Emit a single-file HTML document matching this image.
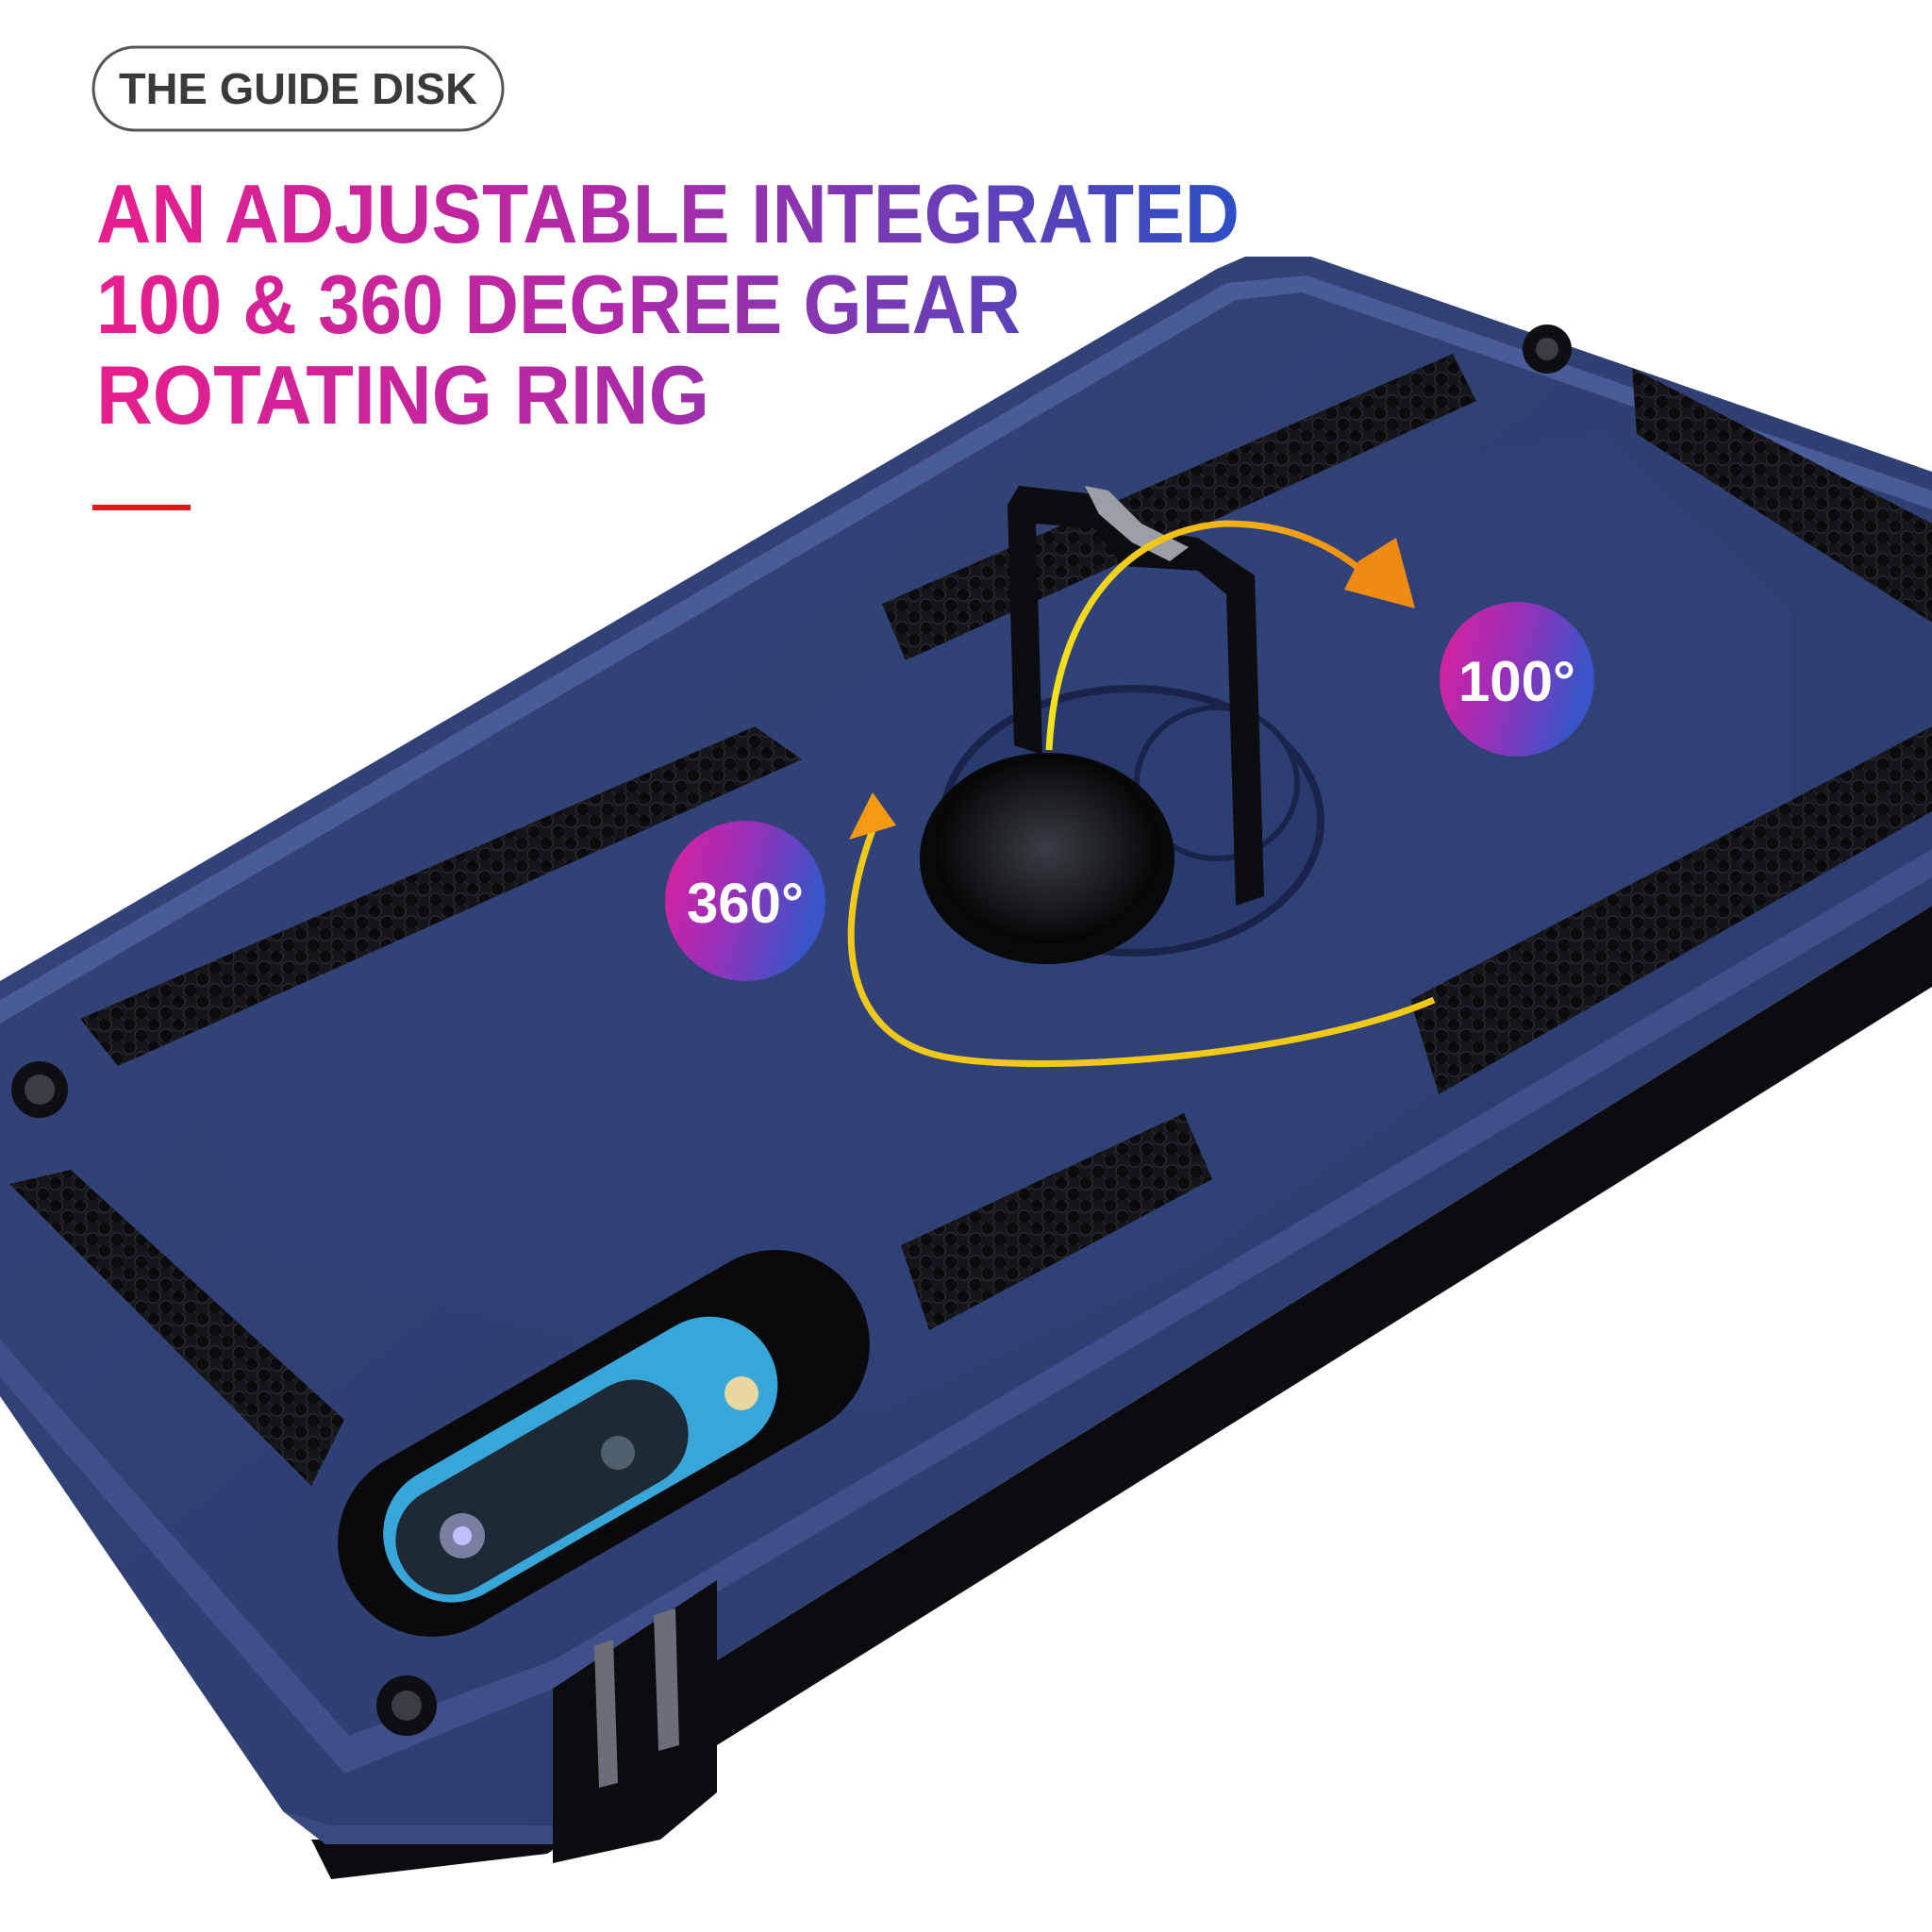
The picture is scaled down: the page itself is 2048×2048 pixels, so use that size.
<!DOCTYPE html>
<html><head><meta charset="utf-8"><style>
html,body{margin:0;padding:0;background:#fff;width:2048px;height:2048px;overflow:hidden}
svg{display:block}
</style></head><body>
<svg width="2048" height="2048" viewBox="0 0 2048 2048" xmlns="http://www.w3.org/2000/svg">
<defs>
<linearGradient id="tg" x1="100" y1="0" x2="1320" y2="0" gradientUnits="userSpaceOnUse">
<stop offset="0" stop-color="#e81e8c"/><stop offset="0.45" stop-color="#b02aa8"/><stop offset="1" stop-color="#2b50c4"/></linearGradient>
<linearGradient id="cg" x1="0" y1="0" x2="1" y2="0.3">
<stop offset="0" stop-color="#e0209a"/><stop offset="0.5" stop-color="#9a2fb8"/><stop offset="1" stop-color="#3a55c8"/></linearGradient>
<linearGradient id="case" x1="0" y1="0" x2="1" y2="1">
<stop offset="0" stop-color="#34457a"/><stop offset="1" stop-color="#2c3b6c"/></linearGradient>
<linearGradient id="arc" x1="0" y1="0" x2="1" y2="0">
<stop offset="0" stop-color="#f2e21a"/><stop offset="1" stop-color="#f28a10"/></linearGradient>
<radialGradient id="disk" cx="0.5" cy="0.5" r="0.5">
<stop offset="0" stop-color="#3a3d44"/><stop offset="0.6" stop-color="#1a1c20"/><stop offset="1" stop-color="#050607"/></radialGradient>
<pattern id="dots" width="26" height="24" patternUnits="userSpaceOnUse">
<rect width="26" height="24" fill="#15161a"/>
<circle cx="7" cy="6" r="8" fill="#2a2a2c"/><circle cx="20" cy="18" r="8" fill="#2a2a2c"/>
<circle cx="7" cy="6" r="6.5" fill="#0c0c0e"/><circle cx="20" cy="18" r="6.5" fill="#0c0c0e"/>
</pattern>
</defs>

<!-- header -->
<rect x="99" y="50" width="434" height="88" rx="44" fill="#fff" stroke="#555" stroke-width="3"/>
<text x="316" y="110" text-anchor="middle" font-family="Liberation Sans, sans-serif" font-weight="bold" font-size="46" fill="#3a3a3a" textLength="380" lengthAdjust="spacingAndGlyphs">THE GUIDE DISK</text>
<g font-family="Liberation Sans, sans-serif" font-weight="bold" font-size="88" fill="url(#tg)">
<text x="102" y="257" textLength="1212" lengthAdjust="spacingAndGlyphs">AN ADJUSTABLE INTEGRATED</text>
<text x="102" y="353" textLength="980" lengthAdjust="spacingAndGlyphs">100 &amp; 360 DEGREE GEAR</text>
<text x="102" y="449" textLength="650" lengthAdjust="spacingAndGlyphs">ROTATING RING</text>
</g>
<rect x="98" y="535" width="104" height="6" fill="#e0161c"/>

<!-- black underside -->
<polygon points="330,1950 600,1950 600,1700 760,1670 760,1760 2048,960 2048,1046 760,1850 580,1965 351,1992" fill="#0b0c10"/>
<!-- case body -->
<polygon points="0,1040 1290,285 1320,272 1390,272 2048,500 2048,960 760,1760 586,1800 586,1955 345,1955 300,1920 0,1480" fill="url(#case)"/>
<!-- light rim -->
<polygon points="0,1060 1300,300 1385,292 2048,520 2048,540 1380,310 1310,318 0,1085" fill="#4a5c98"/>
<polygon points="0,1420 370,1840 586,1760 2048,900 2048,930 586,1790 365,1880 0,1460" fill="#3e4f8a"/>
<polygon points="300,1920 345,1955 586,1955 586,1935 350,1935" fill="#3a4a80"/>
<!-- grille -->
<polygon points="586,1790 760,1675 760,1900 700,1950 586,1975" fill="#0b0c10"/>
<g fill="#6a6e78"><polygon points="630,1745 650,1738 655,1890 635,1895"/><polygon points="693,1712 716,1705 720,1850 698,1856"/></g>
<!-- side buttons -->
<polygon points="790,1790 808,1812 1100,1612 1090,1587" fill="#0b0c10"/>
<polygon points="1210,1530 1225,1555 1360,1465 1345,1440" fill="#0b0c10"/>

<!-- inner panel -->
<polygon points="210,1180 240,1110 1250,530 1700,460 1900,650 1900,900 1250,1350 930,1500 300,1340" fill="#31427a" opacity="0.6"/>

<!-- textured pads -->
<polygon points="85,1080 800,770 850,805 125,1130" fill="url(#dots)"/>
<polygon points="10,1255 75,1240 365,1505 330,1575" fill="url(#dots)"/>
<polygon points="955,1320 1255,1180 1285,1250 985,1410" fill="url(#dots)"/>
<polygon points="1495,1060 2048,770 2048,860 1525,1160" fill="url(#dots)"/>
<polygon points="935,640 1540,375 1565,425 960,700" fill="url(#dots)"/>
<polygon points="1730,390 2048,555 2048,660 1735,460" fill="url(#dots)"/>

<!-- screws -->
<g>
<circle cx="42" cy="1155" r="30" fill="#0e0f12"/><circle cx="42" cy="1155" r="16" fill="#3a3d44"/>
<circle cx="1640" cy="370" r="26" fill="#0e0f12"/><circle cx="1640" cy="370" r="12" fill="#3a3d44"/>
<circle cx="431" cy="1808" r="32" fill="#0e0f12"/><circle cx="431" cy="1808" r="16" fill="#3a3d44"/>
</g>

<!-- camera -->
<g transform="rotate(-30 640 1530)">
<rect x="330" y="1430" width="620" height="200" rx="100" fill="#0a0a0c"/>
<rect x="380" y="1460" width="460" height="145" rx="72" fill="#38a6d8"/>
<rect x="390" y="1480" width="340" height="115" rx="57" fill="#1d2a36"/>
</g>
<circle cx="490" cy="1628" r="24" fill="#7a80a0"/><circle cx="490" cy="1628" r="10" fill="#c0c0ff"/>
<circle cx="655" cy="1540" r="18" fill="#50606c"/>
<circle cx="786" cy="1477" r="18" fill="#e8d8a0"/>

<!-- ring holder base -->
<ellipse cx="1200" cy="870" rx="200" ry="140" fill="#2a3a6c" stroke="#1a244a" stroke-width="8"/>
<ellipse cx="1290" cy="830" rx="85" ry="80" fill="#2e3e72" stroke="#1a244a" stroke-width="6"/>
<!-- disk -->
<ellipse cx="1110" cy="910" rx="135" ry="112" fill="#08090b"/>
<ellipse cx="1110" cy="900" rx="120" ry="100" fill="url(#disk)"/>
<!-- ring loop -->
<path d="M1068 535 L1075 790 L1105 800 L1098 555 L1160 560 L1190 600 L1270 605 L1300 630 L1310 960 L1340 950 L1330 610 L1270 570 L1200 560 L1170 525 L1080 515 Z" fill="#0c0d10"/>
<polygon points="1150,515 1175,520 1210,555 1260,580 1240,595 1200,575 1165,545" fill="#9a9ea6"/>

<!-- arrows -->
<path d="M1112 795 C1120 640 1200 560 1300 555 C1380 555 1430 590 1460 620" fill="none" stroke="url(#arc)" stroke-width="7"/>
<polygon points="1440,595 1480,570 1500,645 1425,625" fill="#f08a12"/>
<path d="M1520 1060 C1380 1120 1100 1140 1000 1120 C900 1100 880 1000 925 880" fill="none" stroke="#f0c818" stroke-width="7"/>
<polygon points="900,890 950,875 925,840" fill="#f39a12"/>

<!-- badges -->
<circle cx="790" cy="955" r="85" fill="url(#cg)"/>
<text x="790" y="978" text-anchor="middle" font-family="Liberation Sans, sans-serif" font-weight="bold" font-size="60" fill="#fff">360°</text>
<circle cx="1608" cy="720" r="82" fill="url(#cg)"/>
<text x="1608" y="743" text-anchor="middle" font-family="Liberation Sans, sans-serif" font-weight="bold" font-size="60" fill="#fff">100°</text>
</svg>
</body></html>
